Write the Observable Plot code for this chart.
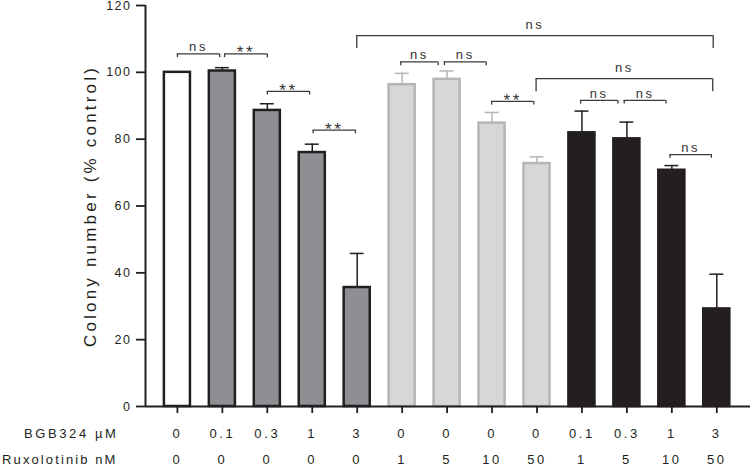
<!DOCTYPE html>
<html>
<head>
<meta charset="utf-8">
<script src="https://cdn.jsdelivr.net/npm/d3@7"></script>
<script src="https://cdn.jsdelivr.net/npm/@observablehq/plot@0.6"></script>
<style>
html, body { margin: 0; padding: 0; background: #fff; }
</style>
</head>
<body>
<div id="chart"></div>
<script>
// ---- data ----
const bgbLabels = ["0", "0.1", "0.3", "1", "3", "0", "0", "0", "0", "0.1", "0.3", "1", "3"];
const ruxLabels = ["0", "0", "0", "0", "0", "1", "5", "10", "50", "1", "5", "10", "50"];
const groups = ["control", "bgb", "bgb", "bgb", "bgb", "rux", "rux", "rux", "rux", "combo", "combo", "combo", "combo"];
const means = [100, 100.4, 88.6, 76.0, 35.6, 96.3, 97.9, 84.8, 72.7, 81.9, 80.1, 70.7, 29.2];
const sems = [0, 1.0, 2.0, 2.5, 10.2, 3.4, 2.5, 3.2, 2.0, 6.5, 5.0, 1.4, 10.4];
const yTicks = [0, 20, 40, 60, 80, 100, 120];
const rowTitles = ["BGB324 µM", "Ruxolotinib nM"];
const yTitle = "Colony number (% control)";

// significance brackets (bar positions 1..13, y in % control)
const bracketFrom = [1.0, 2.05, 3.0, 4.02, 4.99, 5.97, 6.94, 7.99, 8.98, 9.97, 10.94, 11.96];
const bracketTo = [1.94, 3.0, 3.94, 4.96, 12.92, 6.8, 7.87, 8.93, 12.91, 10.8, 11.87, 12.88];
const bracketY = [105.5, 105.5, 94.3, 82.7, 111.0, 103.1, 103.1, 91.3, 98.1, 91.6, 91.6, 75.4];
const bracketLabel = ["ns", "**", "**", "**", "ns", "ns", "ns", "**", "ns", "ns", "ns", "ns"];
const bracketKind = ["pair", "pair", "pair", "pair", "span", "pair", "pair", "pair", "span", "pair", "pair", "pair"];

// ---- build tables ----
const data = means.map((m, k) => ({
  i: k + 1, mean: m, sem: sems[k], group: groups[k], bgb: bgbLabels[k], rux: ruxLabels[k]
}));
const brackets = bracketFrom.map((x1, k) => ({
  x1, x2: bracketTo[k], y: bracketY[k], label: bracketLabel[k], kind: bracketKind[k]
}));

const xDomain = [0.29, 13.75];
const HALF = 0.29, CAP = 0.155;
const ARM = {pair: 1.1, span: 3.9};
const INK = "#231f20";
const styles = {
  control: {fill: "#ffffff", stroke: INK, err: INK},
  bgb: {fill: "#8e8f93", stroke: INK, err: INK},
  rux: {fill: "#d6d7d9", stroke: "#b4b5b7", err: "#b4b5b7"},
  combo: {fill: INK, stroke: INK, err: INK}
};

const marks = [];
for (const [g, s] of Object.entries(styles)) {
  const sub = data.filter(d => d.group === g);
  const withErr = sub.filter(d => d.sem > 0);
  marks.push(Plot.ruleX(withErr, {x: "i", y1: "mean", y2: d => d.mean + d.sem, stroke: s.err, strokeWidth: 1.5}));
  marks.push(Plot.ruleY(withErr, {y: d => d.mean + d.sem, x1: d => d.i - CAP, x2: d => d.i + CAP, stroke: s.err, strokeWidth: 1.5}));
  marks.push(Plot.rect(sub, {x1: d => d.i - HALF, x2: d => d.i + HALF, y1: d => 0, y2: "mean", fill: s.fill, stroke: s.stroke, strokeWidth: 2.5}));
}

// brackets
const BR = "#3a3a3c";
marks.push(Plot.ruleY(brackets, {y: "y", x1: "x1", x2: "x2", stroke: BR, strokeWidth: 1.3}));
marks.push(Plot.ruleX(brackets, {x: "x1", y1: "y", y2: d => d.y - ARM[d.kind], stroke: BR, strokeWidth: 1.3}));
marks.push(Plot.ruleX(brackets, {x: "x2", y1: "y", y2: d => d.y - ARM[d.kind], stroke: BR, strokeWidth: 1.3}));
marks.push(Plot.text(brackets.filter(d => d.label === "ns" && d.kind === "pair"),
  {x: d => (d.x1 + d.x2) / 2, y: "y", text: "label", lineAnchor: "middle", dy: -7, fontSize: 13, fill: "#333"}));
marks.push(Plot.text(brackets.filter(d => d.label === "ns" && d.kind === "span"),
  {x: d => (d.x1 + d.x2) / 2, y: "y", text: "label", lineAnchor: "middle", dy: -11, fontSize: 13, fill: "#333"}));
marks.push(Plot.text(brackets.filter(d => d.label === "**"),
  {x: d => (d.x1 + d.x2) / 2, y: "y", text: "label", lineAnchor: "middle", dy: -1, fontSize: 17, fill: "#333"}));

// axes
marks.push(Plot.axisY({ticks: yTicks, tickSize: 9, tickPadding: 5, fontSize: 12.5, label: null, strokeWidth: 1.8}));
marks.push(Plot.axisX({ticks: data.map(d => d.i), tickSize: 7, tickFormat: () => "", label: null, strokeWidth: 1.8}));
marks.push(Plot.ruleY([0], {stroke: INK, strokeWidth: 2}));
marks.push(Plot.ruleX([xDomain[0]], {stroke: INK, strokeWidth: 2}));

// label rows
marks.push(Plot.text(data, {x: "i", text: "bgb", frameAnchor: "bottom", dy: 27, lineAnchor: "middle", fontSize: 13}));
marks.push(Plot.text(data, {x: "i", text: "rux", frameAnchor: "bottom", dy: 53, lineAnchor: "middle", fontSize: 13}));
marks.push(Plot.text([rowTitles[0]], {frameAnchor: "bottom-left", dx: -27, dy: 27, textAnchor: "end", lineAnchor: "middle", fontSize: 13}));
marks.push(Plot.text([rowTitles[1]], {frameAnchor: "bottom-left", dx: -28, dy: 53, textAnchor: "end", lineAnchor: "middle", fontSize: 13}));

// y title
marks.push(Plot.text([yTitle], {frameAnchor: "left", dx: -55, rotate: -90, textAnchor: "middle", lineAnchor: "middle", fontSize: 17}));

const svg = Plot.plot({
  width: 750,
  height: 466,
  marginLeft: 145,
  marginRight: 0,
  marginTop: 5,
  marginBottom: 60,
  x: {domain: xDomain, axis: null},
  y: {domain: [0, 120], axis: null},
  style: {fontFamily: "'Liberation Sans', Arial, sans-serif", color: INK, background: "#fff"},
  marks
});

const sel = d3.select(svg);
sel.selectAll("text").style("letter-spacing", "2.6px");
sel.selectAll('g[aria-label="y-axis tick label"] text').style("letter-spacing", "1.5px");
sel.selectAll("text").filter(function() { return this.textContent === rowTitles[1]; }).style("letter-spacing", "2.1px");
sel.selectAll("text").filter(function() { return this.textContent === yTitle; }).style("letter-spacing", "3.2px");
document.getElementById("chart").appendChild(svg);
</script>
</body>
</html>
